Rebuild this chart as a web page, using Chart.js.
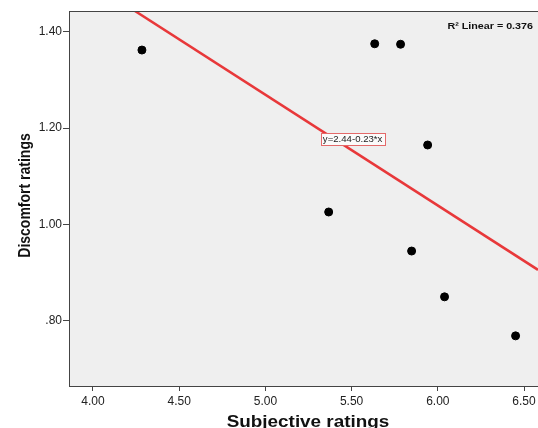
<!DOCTYPE html>
<html>
<head>
<meta charset="utf-8">
<script src="https://cdn.jsdelivr.net/npm/chart.js@4"></script>
<style>
  html, body { margin: 0; padding: 0; background: #fff; overflow: hidden; }
  #chart { display: block; }
</style>
</head>
<body>
<canvas id="chart" width="538" height="428"></canvas>
<script>
// 📦 Data
const subjective = [4.284, 5.634, 5.784, 5.941, 5.367, 5.848, 6.039, 6.451];
const discomfort = [1.362, 1.375, 1.374, 1.165, 1.026, 0.945, 0.850, 0.769];

// fit line end points (R² linear), read at the plot edges
const fitX = [3.861, 6.581];
const fitY = [1.531, 0.906];

const xTicks = [4.0, 4.5, 5.0, 5.5, 6.0, 6.5];
const xTickLabels = ['4.00', '4.50', '5.00', '5.50', '6.00', '6.50'];
const yTicks = [0.8, 1.0, 1.2, 1.4];
const yTickLabels = ['.80', '1.00', '1.20', '1.40'];

const xRange = [3.861, 6.581];
const yRange = [0.665, 1.443];

const xTitle = 'Subjective ratings';
const yTitle = 'Discomfort ratings';
const fitLabel = 'y=2.44-0.23*x';
const fitLabelAt = [5.50, 1.178];
const r2Label = 'R\u00B2 Linear = 0.376';

const FONT = '"Liberation Sans", Arial, sans-serif';
const STRETCH = 1.13; // the source image is a bit wider than tall

// 🎨 Plot background, frame, titles and annotations
const decorPlugin = {
  id: 'decor',
  beforeDraw(chart) {
    const { ctx, chartArea: a } = chart;
    ctx.save();
    ctx.fillStyle = '#efefef';
    ctx.fillRect(a.left, a.top, a.right - a.left, a.bottom - a.top);
    ctx.restore();
  },
  afterDraw(chart) {
    const { ctx, chartArea: a, scales } = chart;
    ctx.save();
    // top frame line
    ctx.strokeStyle = '#444';
    ctx.lineWidth = 1;
    ctx.beginPath();
    ctx.moveTo(a.left, a.top + 0.5);
    ctx.lineTo(a.right, a.top + 0.5);
    ctx.stroke();

    // axis titles
    ctx.fillStyle = '#111';
    ctx.textAlign = 'center';
    ctx.textBaseline = 'alphabetic';
    ctx.save();
    ctx.translate(308, 426.5);
    ctx.scale(1.18, 1);
    ctx.font = 'bold 16px ' + FONT;
    ctx.fillText(xTitle, 0, 0);
    ctx.restore();

    ctx.save();
    ctx.translate(30, (a.top + a.bottom) / 2 - 3);
    ctx.rotate(-Math.PI / 2);
    ctx.scale(1, STRETCH);
    ctx.font = 'bold 14px ' + FONT;
    ctx.fillText(yTitle, 0, 0);
    ctx.restore();

    // R² text
    ctx.save();
    ctx.translate(533, 26);
    ctx.scale(STRETCH, 1);
    ctx.font = 'bold 9.5px ' + FONT;
    ctx.textAlign = 'right';
    ctx.textBaseline = 'middle';
    ctx.fillText(r2Label, 0, 0);
    ctx.restore();

    // equation box
    const cx = scales.x.getPixelForValue(fitLabelAt[0]) + 1;
    const cy = scales.y.getPixelForValue(fitLabelAt[1]);
    ctx.font = '8.5px ' + FONT;
    const w = Math.round((ctx.measureText(fitLabel).width + 4) * STRETCH);
    const h = 12;
    const bx = Math.round(cx - w / 2) + 0.5;
    const by = Math.round(cy - h / 2) + 0.5;
    ctx.fillStyle = '#fbfbfb';
    ctx.fillRect(bx, by, w, h);
    ctx.strokeStyle = '#e46a6a';
    ctx.strokeRect(bx, by, w, h);
    ctx.fillStyle = '#222';
    ctx.textAlign = 'center';
    ctx.textBaseline = 'middle';
    ctx.save();
    ctx.translate(cx, cy + 0.5);
    ctx.scale(STRETCH, 1);
    ctx.fillText(fitLabel, 0, 0);
    ctx.restore();
    ctx.restore();
  }
};

function fixedTicks(values) {
  return scale => { scale.ticks = values.map(v => ({ value: v })); };
}

new Chart(document.getElementById('chart'), {
  data: {
    datasets: [
      {
        type: 'line',
        data: fitX.map((x, i) => ({ x, y: fitY[i] })),
        borderColor: '#e8383a',
        borderWidth: 2.5,
        pointRadius: 0,
        order: 2
      },
      {
        type: 'scatter',
        data: subjective.map((x, i) => ({ x, y: discomfort[i] })),
        backgroundColor: '#000',
        borderColor: '#000',
        pointRadius: 4,
        order: 1
      }
    ]
  },
  options: {
    responsive: false,
    animation: false,
    layout: { autoPadding: false, padding: { top: 11, right: 0, left: 0, bottom: 0 } },
    plugins: { legend: { display: false }, tooltip: { enabled: false } },
    scales: {
      x: {
        type: 'linear',
        min: xRange[0],
        max: xRange[1],
        afterBuildTicks: fixedTicks(xTicks),
        afterFit: s => { s.height = 42; s.paddingRight = 0; s.paddingLeft = 0; },
        grid: { drawOnChartArea: false, drawTicks: true, tickLength: 5, color: '#444' },
        border: { display: true, color: '#444' },
        ticks: {
          padding: 3,
          color: '#222',
          font: { family: FONT, size: 12 },
          maxRotation: 0,
          callback: v => xTickLabels[xTicks.indexOf(v)]
        }
      },
      y: {
        type: 'linear',
        min: yRange[0],
        max: yRange[1],
        afterBuildTicks: fixedTicks(yTicks),
        afterFit: s => { s.width = 69; s.paddingTop = 0; s.paddingBottom = 0; },
        grid: { drawOnChartArea: false, drawTicks: true, tickLength: 6, color: '#444' },
        border: { display: true, color: '#444' },
        ticks: {
          padding: 1,
          color: '#222',
          font: { family: FONT, size: 12 },
          callback: v => yTickLabels[yTicks.indexOf(v)]
        }
      }
    }
  },
  plugins: [decorPlugin]
});
</script>
</body>
</html>
